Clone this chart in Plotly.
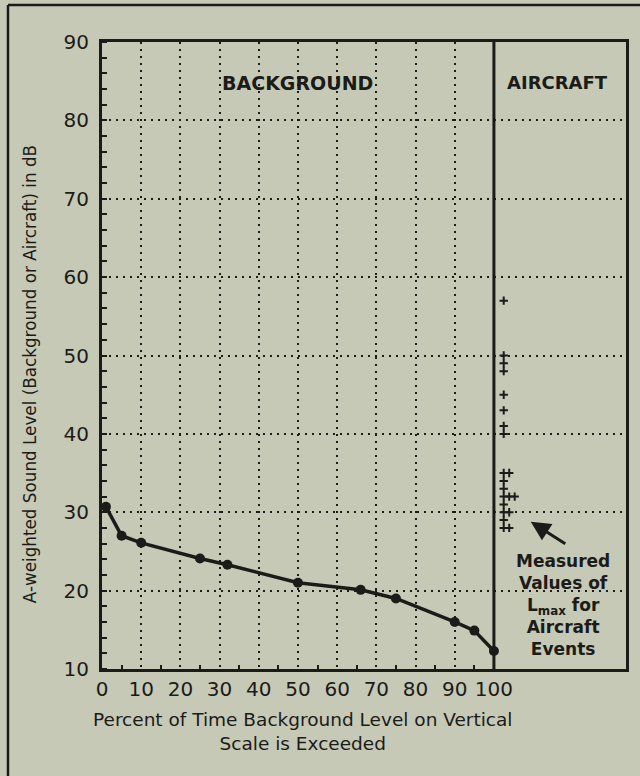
import plotly.graph_objects as go

# ---- data ----
bg_pct = [1, 5, 10, 25, 32, 50, 66, 75, 90, 95, 100]
bg_db = [30.7, 27.0, 26.1, 24.1, 23.3, 21.0, 20.1, 19.0, 16.0, 14.9, 12.3]

aircraft_lmax = [57, 50, 49, 48, 45, 43, 41, 40, 35, 35, 34, 33, 32, 32, 32,
                 31, 30, 30, 29, 28, 28]

x_ticks = [0, 10, 20, 30, 40, 50, 60, 70, 80, 90, 100]
y_ticks = [10, 20, 30, 40, 50, 60, 70, 80, 90]

# ---- styling ----
BG = "#c6c9b6"
INK = "#1b1b18"
FONT = "DejaVu Sans"
DOTS = "2px,5px"

# stack repeated aircraft values side by side in the aircraft panel
ac_x = []
seen = {}
for v in aircraft_lmax:
    k = seen.get(v, 0)
    ac_x.append(102.5 + 1.4 * k)
    seen[v] = k + 1

fig = go.Figure()

fig.add_trace(go.Scatter(
    x=bg_pct, y=bg_db, mode="lines+markers",
    line=dict(color=INK, width=3.5),
    marker=dict(color=INK, size=10, symbol="circle"),
    showlegend=False, cliponaxis=False,
))

fig.add_trace(go.Scatter(
    x=ac_x, y=aircraft_lmax, mode="markers",
    marker=dict(symbol="cross-thin", size=6, line=dict(color=INK, width=2)),
    showlegend=False,
))

# divider between background and aircraft panels
fig.add_shape(type="line", x0=100, x1=100, y0=10, y1=90, xref="x", yref="y",
              line=dict(color=INK, width=3))

# outer scan frame (top and left lines)
fig.add_shape(type="line", xref="paper", yref="paper",
              x0=-0.1794, x1=1.03, y0=1.059, y1=1.059,
              line=dict(color=INK, width=2.5))
fig.add_shape(type="line", xref="paper", yref="paper",
              x0=-0.1794, x1=-0.1794, y0=1.059, y1=-0.18,
              line=dict(color=INK, width=2.5))

fig.update_xaxes(
    range=[0, 133.7], tickmode="array", tickvals=x_ticks,
    ticktext=[str(v) for v in x_ticks],
    showgrid=True, gridcolor=INK, griddash=DOTS, gridwidth=2,
    showline=True, linecolor=INK, linewidth=3, mirror=True,
    ticks="", zeroline=False,
    tickfont=dict(family=FONT, size=20, color=INK),
    minor=dict(tickmode="array", tickvals=[5, 15, 25, 35, 45, 55, 65, 75, 85, 95],
               ticks="inside", ticklen=4, tickwidth=2, tickcolor=INK, showgrid=False),
)
fig.update_yaxes(
    range=[10, 90], tickmode="array", tickvals=y_ticks,
    showgrid=True, gridcolor=INK, griddash=DOTS, gridwidth=2,
    showline=True, linecolor=INK, linewidth=3, mirror=True,
    ticks="", zeroline=False, ticklabelstandoff=6,
    tickfont=dict(family=FONT, size=20, color=INK),
    minor=dict(dtick=2, tick0=10, ticks="inside", ticklen=5, tickwidth=2,
               tickcolor=INK, showgrid=False),
)

annotations = [
    dict(x=50, y=84.8, xref="x", yref="y", text="<b>BACKGROUND</b>",
         xanchor="center", yanchor="middle",
         showarrow=False, font=dict(family=FONT, size=19, color=INK)),
    dict(x=116.3, y=84.8, xref="x", yref="y", text="<b>AIRCRAFT</b>",
         xanchor="center", yanchor="middle",
         showarrow=False, font=dict(family=FONT, size=18, color=INK)),
    dict(x=117.6, y=18.2, xref="x", yref="y",
         text="<b>Measured<br>Values of<br>L<sub>max</sub> for<br>Aircraft<br>Events</b>",
         xanchor="center", yanchor="middle",
         showarrow=False, align="center",
         font=dict(family=FONT, size=17, color=INK)),
    dict(x=109.4, y=28.8, xref="x", yref="y", text="", showarrow=True,
         ax=36, ay=23, arrowhead=2, arrowsize=1.3, arrowwidth=3, arrowcolor=INK),
    dict(x=-0.137, y=0.4705, xref="paper", yref="paper",
         text="A-weighted Sound Level (Background or Aircraft) in dB",
         xanchor="center", yanchor="middle",
         textangle=-90, showarrow=False,
         font=dict(family=FONT, size=16.8, color=INK)),
    dict(x=0.3836, y=-0.0989, xref="paper", yref="paper",
         text="Percent of Time Background Level on Vertical<br>Scale is Exceeded",
         xanchor="center", yanchor="middle",
         showarrow=False, align="center",
         font=dict(family=FONT, size=18.5, color=INK)),
]

fig.update_layout(
    width=640, height=776,
    margin=dict(l=102, r=14, t=42, b=107),
    paper_bgcolor=BG, plot_bgcolor=BG,
    annotations=annotations,
    showlegend=False,
)

fig.write_html("out.html", config={"displayModeBar": False},
               post_script="document.body.style.margin='0';")
